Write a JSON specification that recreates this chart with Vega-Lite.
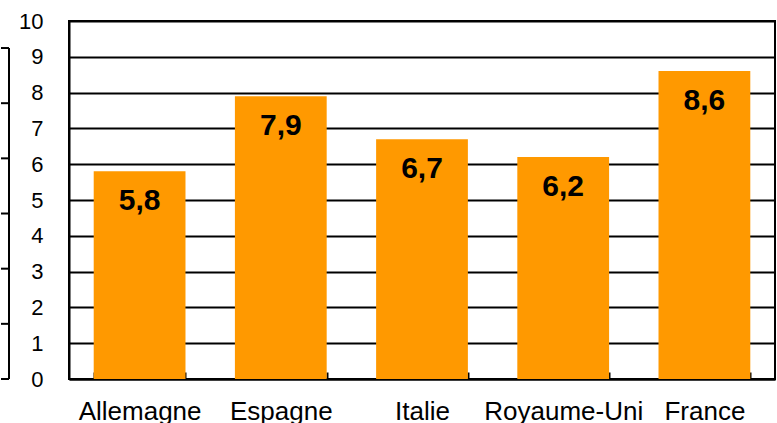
{
  "$schema": "https://vega.github.io/schema/vega-lite/v6.json",
  "padding": {"left": 0, "top": 9, "right": 0, "bottom": 0},
  "spacing": 7,
  "config": {"font": "Liberation Sans", "view": {"stroke": null}},
  "hconcat": [
    {
      "width": 8,
      "height": 358,
      "view": {"stroke": null},
      "data": {"values": [{"v": 0}, {"v": 1}, {"v": 2}, {"v": 3}, {"v": 4}, {"v": 5}, {"v": 6}]},
      "layer": [
        {
          "mark": {"type": "rule", "color": "black", "strokeWidth": 2},
          "encoding": {
            "y": {"field": "v", "type": "quantitative", "scale": {"domain": [0, 6.49], "nice": false, "zero": false}, "axis": null}
          }
        },
        {
          "data": {"values": [{"a": 0, "b": 6, "x": 1}]},
          "mark": {"type": "rule", "color": "black", "strokeWidth": 2},
          "encoding": {
            "x": {"field": "x", "type": "quantitative", "scale": {"domain": [0, 1]}, "axis": null},
            "y": {"field": "a", "type": "quantitative"},
            "y2": {"field": "b"}
          }
        }
      ]
    },
    {
      "width": 706,
      "height": 358,
      "view": {"stroke": "black", "strokeWidth": 2},
      "data": {
        "values": [
          {"pays": "Allemagne", "valeur": 5.8, "etiquette": "5,8"},
          {"pays": "Espagne", "valeur": 7.9, "etiquette": "7,9"},
          {"pays": "Italie", "valeur": 6.7, "etiquette": "6,7"},
          {"pays": "Royaume-Uni", "valeur": 6.2, "etiquette": "6,2"},
          {"pays": "France", "valeur": 8.6, "etiquette": "8,6"}
        ]
      },
      "encoding": {
        "x": {
          "field": "pays",
          "type": "nominal",
          "sort": null,
          "scale": {"paddingInner": 0.35, "paddingOuter": 0.175},
          "axis": {
            "title": null,
            "labelAngle": 0,
            "labelFontSize": 26,
            "labelColor": "black",
            "labelPadding": 26,
            "labelOverlap": false,
            "domainColor": "black",
            "domainWidth": 2,
            "tickBand": "extent",
            "tickSize": -7,
            "tickWidth": 2,
            "tickColor": "black",
            "grid": false
          }
        },
        "y": {
          "field": "valeur",
          "type": "quantitative",
          "scale": {"domain": [0, 10], "nice": false},
          "axis": {
            "title": null,
            "values": [0, 1, 2, 3, 4, 5, 6, 7, 8, 9, 10],
            "labelFontSize": 22,
            "labelColor": "black",
            "labelPadding": 26,
            "ticks": false,
            "domainColor": "black",
            "domainWidth": 2,
            "grid": true,
            "gridColor": "black",
            "gridWidth": 2,
            "gridOpacity": 1
          }
        }
      },
      "layer": [
        {"mark": {"type": "bar", "color": "#FF9900"}},
        {
          "mark": {"type": "text", "fontSize": 30, "fontWeight": "bold", "color": "black", "baseline": "alphabetic", "dy": 39},
          "encoding": {"text": {"field": "etiquette", "type": "nominal"}}
        }
      ]
    }
  ]
}
